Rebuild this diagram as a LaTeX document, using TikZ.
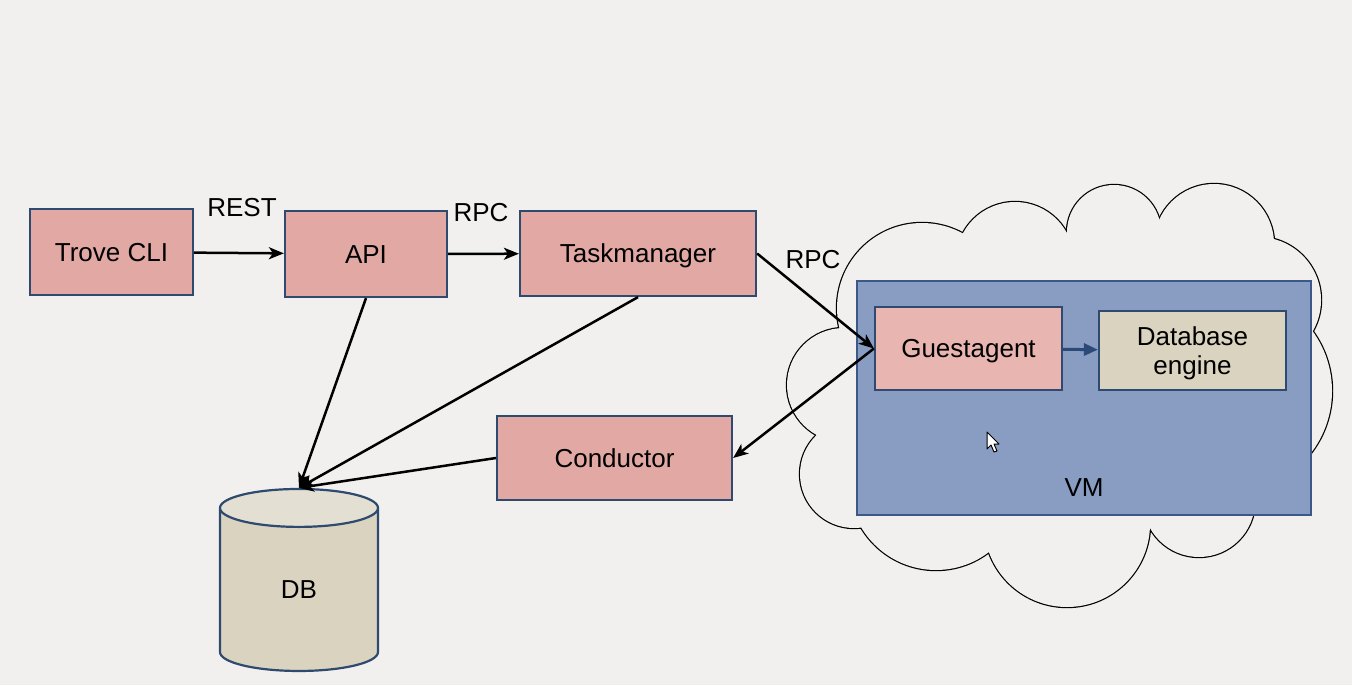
\documentclass[tikz,border=0pt]{standalone}
\usepackage{fontspec}
\setmainfont{Liberation Sans}
\usetikzlibrary{arrows.meta,shapes.geometric}
\definecolor{bgcol}{HTML}{F1F0EF}
\definecolor{boxline}{HTML}{2E4A6E}
\definecolor{pinkfill}{HTML}{E1A8A4}
\definecolor{agentfill}{HTML}{E8B5B0}
\definecolor{vmfill}{HTML}{899CC2}
\definecolor{vmline}{HTML}{3B5888}
\definecolor{tanfill}{HTML}{DAD3BF}
\definecolor{tantop}{HTML}{E3DFD2}
\definecolor{innerarrow}{HTML}{2B4A78}
\newcommand{\labelfont}{\fontsize{13}{14.5}\selectfont}

\begin{document}
\begin{tikzpicture}[x=0.5pt,y=-0.5pt,
  box/.style={draw=boxline,line width=1.1pt,fill=pinkfill,font=\labelfont,
    inner sep=0pt,text height=9.3pt,text depth=0pt},
  lbl/.style={font=\labelfont,inner sep=0pt,text height=9.3pt,text depth=0pt},
  flow/.style={-{Stealth[length=7.5pt,width=6pt,inset=2pt]},line width=1.25pt}]
\useasboundingbox (0,0) rectangle (1352,685);
\fill[bgcol] (0,0) rectangle (1352,685);
% cloud: outline of a union of puffs
\foreach \cx/\cy/\r in {844/385/57,854/474/54,936/483/87,1067/524/83,1199/501/56,1230/391/102,1258/300/63,1214/244/60,1114/232/47,1015/261/59,922/308/85}
  \draw[line width=1.2pt] (\cx,\cy) circle[radius=\r*0.5pt];
\foreach \cx/\cy/\r in {844/385/57,854/474/54,936/483/87,1067/524/83,1199/501/56,1230/391/102,1258/300/63,1214/244/60,1114/232/47,1015/261/59,922/308/85,1060/400/150,1160/350/100}
  \fill[bgcol] (\cx,\cy) circle[radius=\r*0.5pt];
\node[draw=vmline,line width=1.1pt,fill=vmfill,minimum width=227pt,minimum height=117pt,inner sep=0pt] (vm) at (1084,398) {};
\node[lbl] (vmname) at (1084,487) {VM};
\node[box,minimum width=81.5pt,minimum height=43pt] (cli) at (111.5,252) {Trove CLI};
\node[box,minimum width=81pt,minimum height=43pt] (api) at (366,254) {API};
\node[box,minimum width=118pt,minimum height=42.5pt] (tm) at (638,253.5) {Taskmanager};
\node[box,minimum width=117.5pt,minimum height=42pt] (cond) at (614.5,458) {Conductor};
\node[box,fill=agentfill,minimum width=93.5pt,minimum height=41.5pt] (agent) at (968.5,348.5) {Guestagent};
\node[box,fill=tanfill,minimum width=93.5pt,minimum height=39.5pt,align=center,text height=23.8pt] (engine) at (1192.5,350.5) {Database\\engine};
\node[cylinder,shape border rotate=90,draw=boxline,line width=1.1pt,aspect=1.05,
  minimum width=79pt,minimum height=91pt,cylinder uses custom fill,
  cylinder body fill=tanfill,cylinder end fill=tantop,inner sep=0pt,font=\labelfont] (db) at (299,590) {DB};
\node[lbl] (rest) at (242,207) {REST};
\node[lbl] (rpca) at (481,212) {RPC};
\node[lbl] (rpcb) at (813,259) {RPC};
\draw[flow] (cli) -- (api);
\draw[flow] (api) -- (tm);
\draw[flow] (tm.east) -- (agent.west);
\draw[flow] (agent.west) -- (cond.east);
\draw[flow] (api.south) -- (db.north);
\draw[flow] (tm.south) -- (db.north);
\draw[flow] (cond.west) -- (db.north);
\draw[-{Triangle[length=7pt,width=6pt]},line width=1.5pt,innerarrow] (agent) -- (engine);
% mouse pointer
\draw[fill=white,line width=0.5pt,line join=round] (987,432) -- (987,449) -- (991,445) -- (994,452) -- (997,451) -- (994,444) -- (999,444) -- cycle;
\end{tikzpicture}
\end{document}
